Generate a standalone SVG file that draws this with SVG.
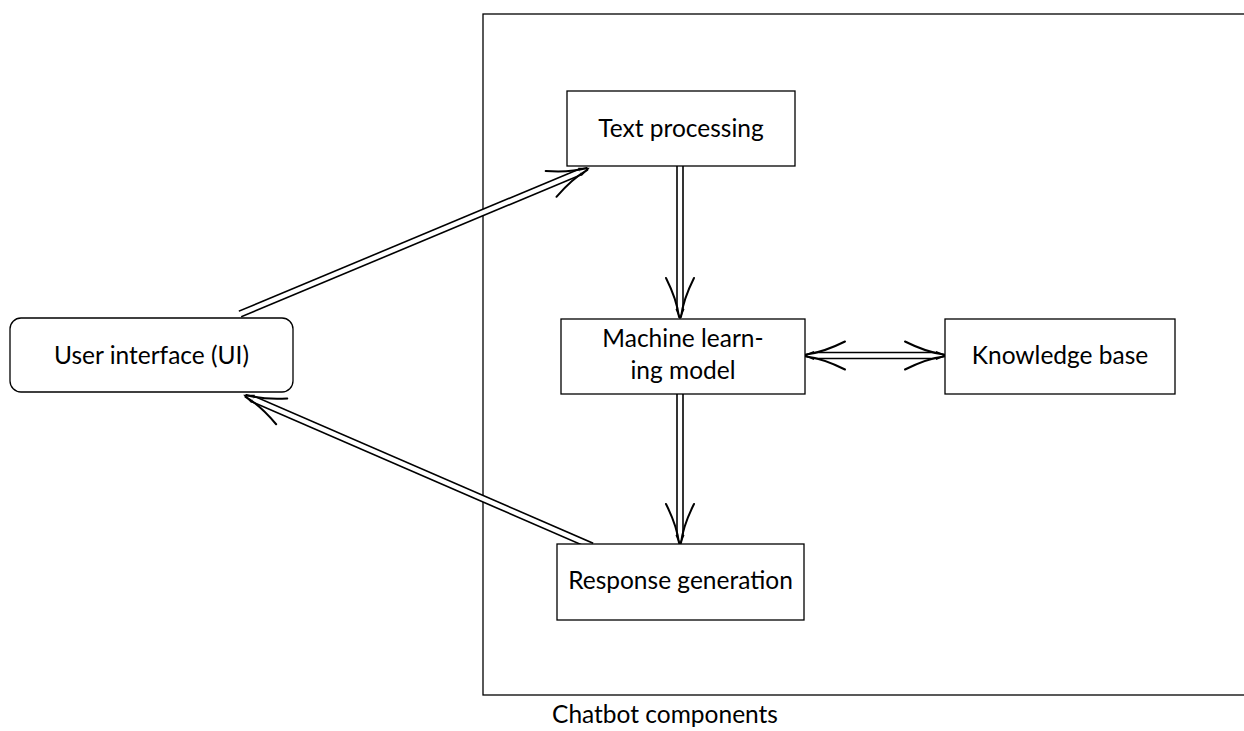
<svg xmlns="http://www.w3.org/2000/svg" width="1244" height="731" viewBox="0 0 1244 731">
  <style>
    .box { fill: #fff; stroke: #000; stroke-width: 1.3; }
    .frame { fill: none; stroke: #000; stroke-width: 1.3; }
    .lbl { font-family: Lato, "Open Sans", sans-serif; font-size: 24.5px; fill: #000; text-anchor: middle; }
    .dbl-out { fill: none; stroke: #000; stroke-width: 7.6; }
    .dbl-in { fill: none; stroke: #fff; stroke-width: 4.4; }
    .hook { fill: none; stroke: #000; stroke-width: 2; stroke-linecap: round; }
  </style>
  <defs>
    <!-- curved double-line arrow tip, tip at origin pointing along +x -->
    <g id="tip">
      <path class="hook" d="M -40,-14 Q -18,-3 -1,-1"/>
      <path class="hook" d="M -40,14 Q -18,3 -1,1"/>
      <path d="M -9,-3.8 L 0,0 L -9,3.8" fill="none" stroke="#000" stroke-width="1.6"/>
    </g>
  </defs>
  <rect width="1244" height="731" fill="#fff"/>

  <!-- subsystem frame -->
  <g id="chatbot-frame">
    <rect class="frame" x="483" y="14" width="800" height="681"/>
    <text class="lbl" x="665" y="723">Chatbot components</text>
  </g>

  <!-- connectors -->
  <g id="connectors">
    <path class="dbl-out" d="M 240,314 L 580,172"/>
    <path class="dbl-in" d="M 239,314.4 L 580,172"/>
    <use href="#tip" transform="translate(588,168.5) rotate(-22.6)"/>

    <path class="dbl-out" d="M 592,546 L 253,399"/>
    <path class="dbl-in" d="M 593,546.4 L 253,399"/>
    <use href="#tip" transform="translate(245,395.5) rotate(-156.6)"/>

    <path class="dbl-out" d="M 680,166 L 680,310"/>
    <path class="dbl-in" d="M 680,165 L 680,310"/>
    <use href="#tip" transform="translate(680,318) rotate(90)"/>

    <path class="dbl-out" d="M 680,394 L 680,536"/>
    <path class="dbl-in" d="M 680,393 L 680,536"/>
    <use href="#tip" transform="translate(680,544) rotate(90)"/>

    <path class="dbl-out" d="M 813,355.5 L 937,355.5"/>
    <path class="dbl-in" d="M 813,355.5 L 937,355.5"/>
    <use href="#tip" transform="translate(805,355.5) rotate(180)"/>
    <use href="#tip" transform="translate(945,355.5)"/>
  </g>

  <g id="ui">
    <rect class="box" x="10" y="318" width="283" height="74" rx="11"/>
    <text class="lbl" x="151.5" y="364">User interface (UI)</text>
  </g>
  <g id="text-processing">
    <rect class="box" x="567" y="91" width="228" height="75"/>
    <text class="lbl" x="681" y="137">Text processing</text>
  </g>
  <g id="ml-model">
    <rect class="box" x="561" y="319" width="244" height="75"/>
    <text class="lbl" x="683" y="347">Machine learn-</text>
    <text class="lbl" x="683" y="379">ing model</text>
  </g>
  <g id="knowledge-base">
    <rect class="box" x="945" y="319" width="230" height="75"/>
    <text class="lbl" x="1060" y="364">Knowledge base</text>
  </g>
  <g id="response-generation">
    <rect class="box" x="557" y="544" width="247" height="76"/>
    <text class="lbl" x="680.5" y="589">Response generation</text>
  </g>
</svg>
